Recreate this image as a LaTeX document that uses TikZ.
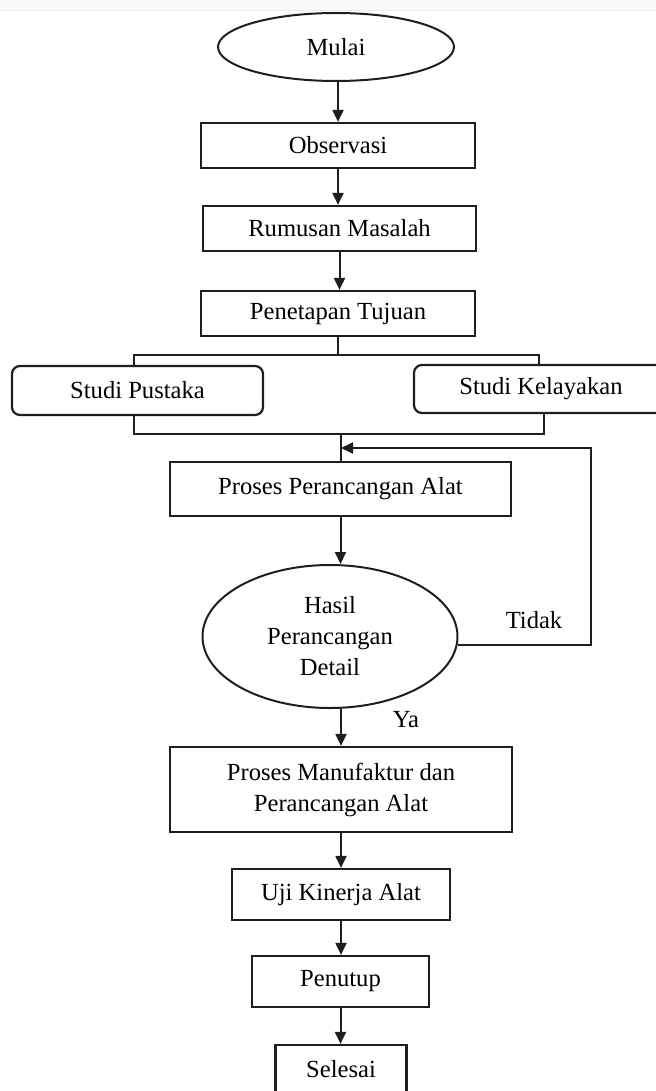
\documentclass[tikz,border=0pt]{standalone}
\usepackage{fontspec}
\setmainfont{Liberation Serif}
\usetikzlibrary{shapes.geometric,arrows.meta}
\definecolor{lineclr}{RGB}{30,30,30}
\definecolor{bandclr}{RGB}{249,249,249}
\tikzset{
  txt/.style={font=\fontsize{12.3}{15.5}\selectfont, text=black, align=center, inner sep=0pt},
  stepbox/.style={txt, draw=lineclr, line width=1.1pt, rectangle},
  roundbox/.style={txt, draw=lineclr, line width=1.1pt, rectangle, rounded corners=4pt},
  oval/.style={txt, draw=lineclr, line width=1pt, ellipse},
  conn/.style={draw=lineclr, line width=1pt},
  arr/.style={conn, -{Triangle[width=5.5pt,length=6pt]}},
}
\begin{document}
\begin{tikzpicture}[x=0.5pt,y=-0.5pt]
\clip (0,0) rectangle (656,1091);
\useasboundingbox (0,0) rectangle (656,1091);
\fill[bandclr] (0,0) rectangle (656,11);
\draw[gray!15, line width=0.5pt] (0,11) -- (656,11);

% nodes
\node[oval, minimum width=118pt, minimum height=34pt] (mulai) at (336,47) {Mulai};
\node[stepbox, minimum width=137pt, minimum height=22.5pt] (obs) at (338,145.5) {Observasi};
\node[stepbox, minimum width=136.5pt, minimum height=22.5pt] (rum) at (339.5,228.5) {Rumusan Masalah};
\node[stepbox, minimum width=137pt, minimum height=22.5pt] (pen) at (338,313.5) {Penetapan Tujuan};
\node[roundbox, minimum width=125.5pt, minimum height=24.5pt] (sp) at (137.5,390.5) {Studi Pustaka};
\node[roundbox, minimum width=127pt, minimum height=24pt] (sk) at (541,389) {Studi Kelayakan};
\node[stepbox, minimum width=170.5pt, minimum height=27pt] (ppa) at (340.5,489) {Proses Perancangan Alat};
\node[oval, minimum width=127.5pt, minimum height=71.5pt] (hasil) at (330,636.5) {Hasil\\Perancangan\\Detail};
\node[stepbox, minimum width=171pt, minimum height=42.5pt] (pm) at (341,789.5) {Proses Manufaktur dan\\Perancangan Alat};
\node[stepbox, minimum width=109pt, minimum height=25.5pt] (uji) at (341,894.5) {Uji Kinerja Alat};
\node[stepbox, minimum width=88.5pt, minimum height=25.5pt] (tutup) at (340.5,981.5) {Penutup};
\node[stepbox, minimum width=65.5pt, minimum height=24pt] (selesai) at (341,1069) {Selesai};

\node[txt] (tidak) at (534,620) {Tidak};
\node[txt] (ya) at (406,720) {Ya};

% helper coordinates
\coordinate (tbl) at (134,355);
\coordinate (tbr) at (539,355);
\coordinate (lbl) at (134,434);
\coordinate (lbr) at (544,434);
\coordinate (jn) at (341,434);
\coordinate (jf) at (341,448);
\coordinate (fb) at (591,448);

% connectors
\draw[arr] (mulai.south -| obs.north) -- (obs.north);
\draw[arr] (obs.south) -- (obs.south |- rum.north);
\draw[arr] (rum.south) -- (rum.south |- pen.north);
\draw[conn] (pen.south) -- (pen.south |- tbl);
\draw[conn] (tbl |- sp.north) -- (tbl) -- (tbr) -- (tbr |- sk.north);
\draw[conn] (lbl |- sp.south) -- (lbl) -- (lbr) -- (lbr |- sk.south);
\draw[conn] (jn) -- (jn |- ppa.north);
\draw[arr] (ppa.south) -- (ppa.south |- hasil.north);
\draw[arr] (hasil.-4) -- (fb |- hasil.-4) -- (fb) -- (jf);
\draw[arr] (hasil.south -| pm.north) -- (pm.north);
\draw[arr] (pm.south) -- (pm.south |- uji.north);
\draw[arr] (uji.south) -- (uji.south |- tutup.north);
\draw[arr] (tutup.south) -- (tutup.south |- selesai.north);
\end{tikzpicture}
\end{document}
